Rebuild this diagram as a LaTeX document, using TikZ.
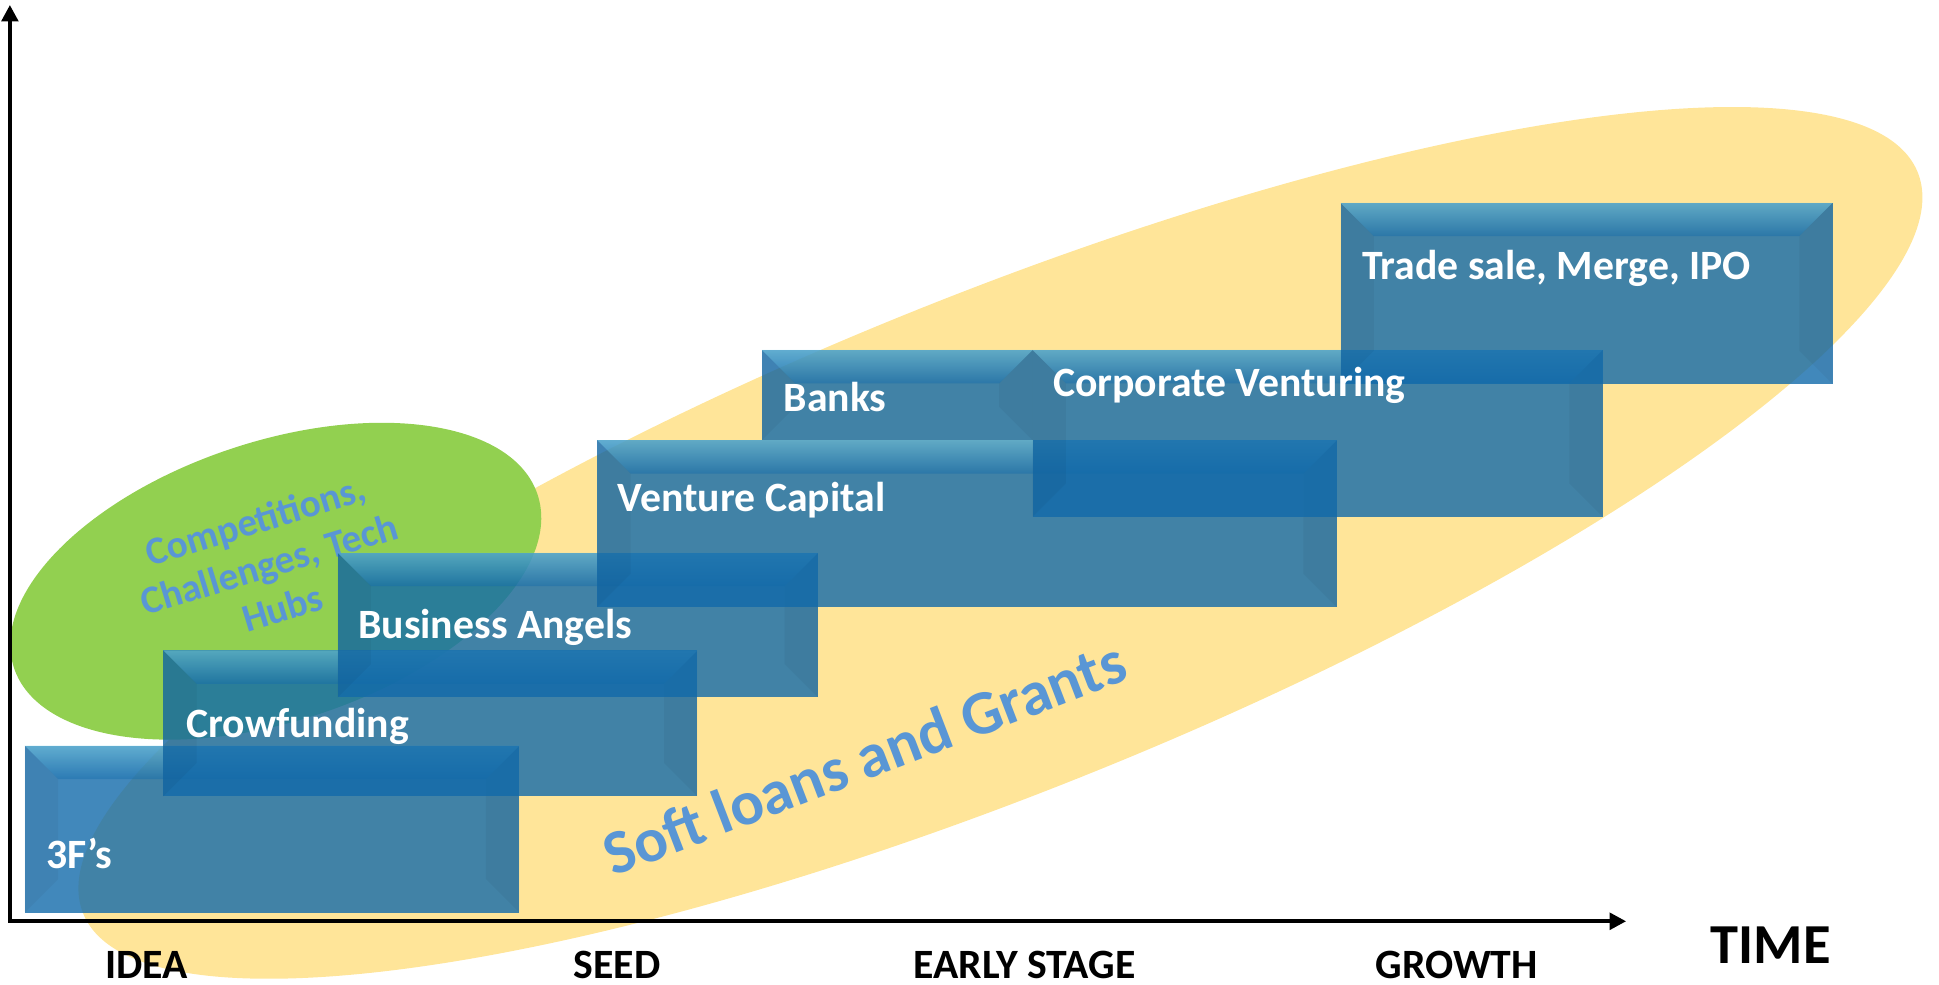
\documentclass[tikz,border=0pt]{standalone}
\usepackage{fontspec}
\setmainfont{Carlito}
\usepackage{tikz}
\usetikzlibrary{arrows.meta}

\definecolor{sunband}{RGB}{255,229,153}
\definecolor{leafgreen}{RGB}{146,208,80}
\definecolor{boxblue}{RGB}{18,106,170}
\definecolor{glow}{RGB}{135,218,235}
\definecolor{softblue}{RGB}{89,150,213}

\tikzset{
  fund/.style={fill=boxblue, fill opacity=0.8},
  glare/.style={top color=glow, bottom color=boxblue, fill opacity=0.45},
  bevel/.style={fill=black, fill opacity=0.04},
  fundlbl/.style={anchor=base west, inner sep=0pt, text=white, font=\fontsize{9.6}{11}\selectfont\bfseries},
  stage/.style={anchor=base, inner sep=0pt, font=\fontsize{9.6}{11}\selectfont\bfseries},
  axis/.style={line width=0.9pt, {Triangle[width=3.8pt,length=3.8pt]}-{Triangle[width=3.8pt,length=3.8pt]}},
}

% bevelled funding box: x1, y1, x2, y2
\newcommand{\fundbox}[4]{%
  \fill[fund] (#1,#2) rectangle (#3,#4);
  \shade[glare] (#1,#4) -- (#3,#4) -- (#3-0.27,#4-0.27) -- (#1+0.27,#4-0.27) -- cycle;
  \fill[bevel] (#1,#2) -- (#1,#4) -- (#1+0.27,#4-0.27) -- (#1+0.27,#2+0.27) -- cycle;
  \fill[bevel] (#3,#2) -- (#3,#4) -- (#3-0.27,#4-0.27) -- (#3-0.27,#2+0.27) -- cycle;
}

\begin{document}
\begin{tikzpicture}
\useasboundingbox (0,0) rectangle (15.68,7.96);
% background blobs
\fill[sunband, rotate around={22:(8.09,3.57)}] (8.09,3.57) ellipse (8 and 2);
\fill[leafgreen, rotate around={18.3:(2.23,3.26)}] (2.23,3.26) ellipse (2.23 and 1.13);
\node[rotate=17, align=center, text=softblue, font=\fontsize{9}{10.5}\selectfont\bfseries] (hubs) at (2.175,3.40) {Competitions,\\Challenges, Tech\\Hubs};
% funding boxes
\fundbox{0.20}{0.58}{4.20}{1.93}
\fundbox{1.32}{1.52}{5.64}{2.70}
\fundbox{2.73}{2.32}{6.615}{3.49}
\fundbox{4.83}{3.05}{10.81}{4.40}
\fundbox{6.16}{4.40}{8.35}{5.13}
\fundbox{8.35}{3.78}{12.96}{5.13}
\fundbox{10.84}{4.855}{14.82}{6.32}
\node[fundlbl] (ff) at (0.37,0.94) {3F’s};
\node[fundlbl] (crowd) at (1.50,2.00) {Crowfunding};
\node[fundlbl] (angels) at (2.89,2.80) {Business Angels};
\node[fundlbl] (vc) at (4.99,3.82) {Venture Capital};
\node[fundlbl] (banks) at (6.33,4.63) {Banks};
\node[fundlbl] (corp) at (8.51,4.75) {Corporate Venturing};
\node[fundlbl] (trade) at (11.01,5.70) {Trade sale, Merge, IPO};
\node[rotate=21, anchor=base, inner sep=0pt, text=softblue, font=\fontsize{14.4}{16}\selectfont\bfseries] (soft) at (7.05,1.67) {Soft loans and Grants};
% axes
\coordinate (orig) at (0.08,0.51);
\coordinate (ytop) at (0.08,7.92);
\coordinate (xend) at (13.15,0.51);
\draw[axis] (ytop) -- (orig) -- (xend);
\node[stage] (idea) at (1.185,0.05) {IDEA};
\node[stage] (seed) at (4.99,0.05) {SEED};
\node[stage] (early) at (8.285,0.05) {EARLY STAGE};
\node[stage] (growth) at (11.78,0.05) {GROWTH};
\node[stage, font=\fontsize{13}{15}\selectfont\bfseries] (time) at (14.32,0.17) {TIME};
\end{tikzpicture}
\end{document}
